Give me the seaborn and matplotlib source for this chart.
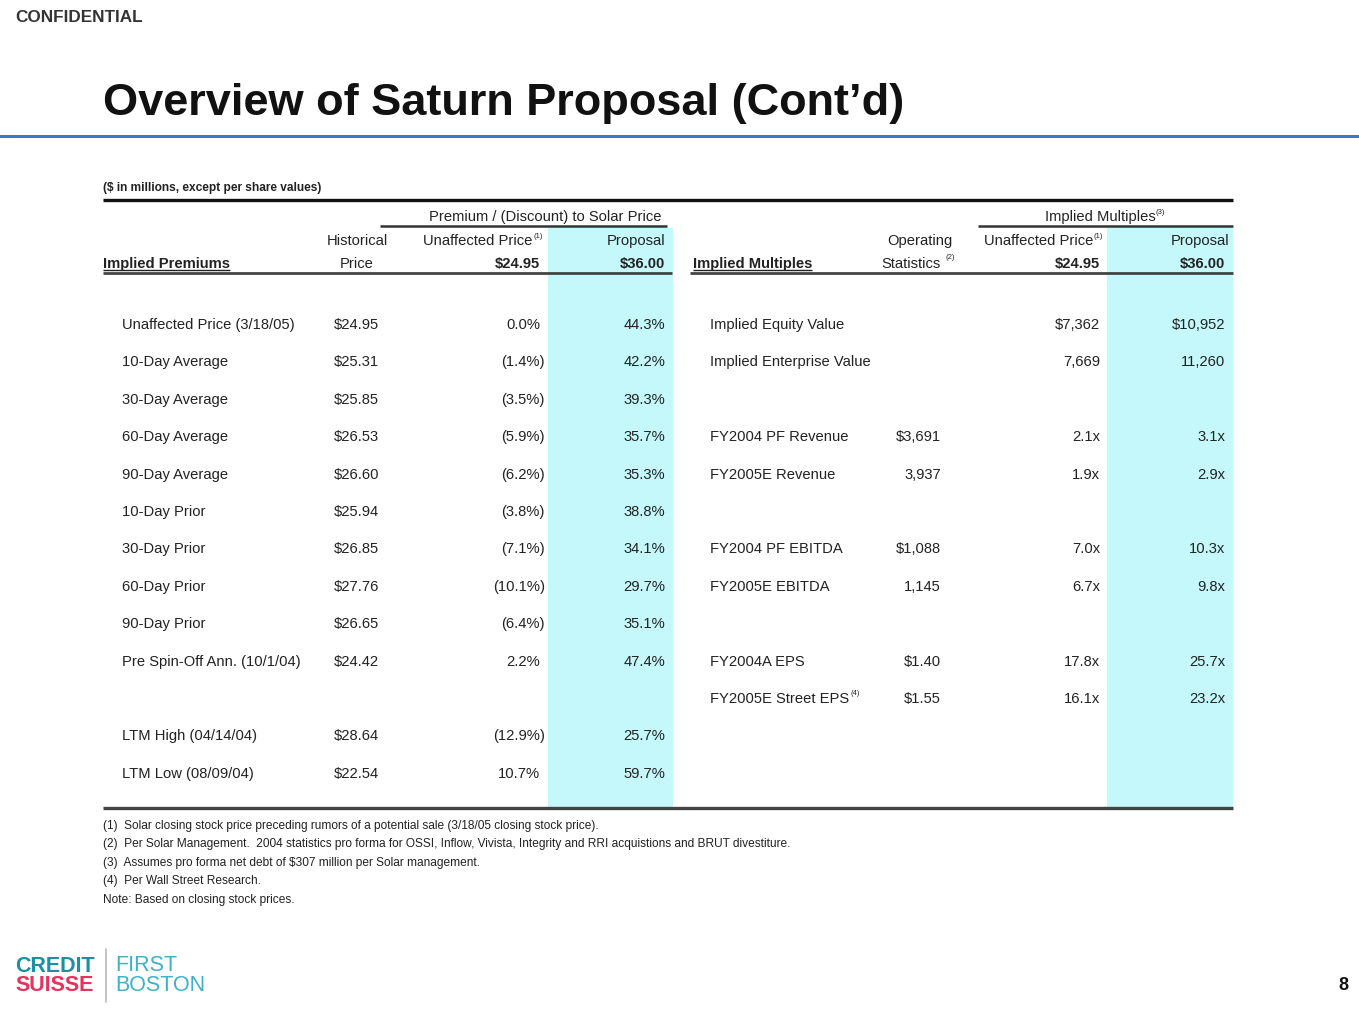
import matplotlib
matplotlib.use("Agg")
import matplotlib.pyplot as plt
import seaborn as sns

sns.set_theme(style="white")
plt.rcParams['font.family'] = ['Liberation Sans', 'DejaVu Sans']

# ---- data ----
premium_labels = ["Unaffected Price (3/18/05)", "10-Day Average", "30-Day Average", "60-Day Average",
                  "90-Day Average", "10-Day Prior", "30-Day Prior", "60-Day Prior", "90-Day Prior",
                  "Pre Spin-Off Ann. (10/1/04)", None, "LTM High (04/14/04)", "LTM Low (08/09/04)"]
historical_price = [24.95, 25.31, 25.85, 26.53, 26.60, 25.94, 26.85, 27.76, 26.65, 24.42, None, 28.64, 22.54]
premium_unaffected = [0.0, -1.4, -3.5, -5.9, -6.2, -3.8, -7.1, -10.1, -6.4, 2.2, None, -12.9, 10.7]
premium_proposal = [44.3, 42.2, 39.3, 35.7, 35.3, 38.8, 34.1, 29.7, 35.1, 47.4, None, 25.7, 59.7]

multiple_labels = ["Implied Equity Value", "Implied Enterprise Value", None, "FY2004 PF Revenue",
                   "FY2005E Revenue", None, "FY2004 PF EBITDA", "FY2005E EBITDA", None,
                   "FY2004A EPS", "FY2005E Street EPS"]
operating_stats = [None, None, None, "$3,691", "3,937", None, "$1,088", "1,145", None, "$1.40", "$1.55"]
multiple_unaffected = ["$7,362", "7,669", None, "2.1x", "1.9x", None, "7.0x", "6.7x", None, "17.8x", "16.1x"]
multiple_proposal = ["$10,952", "11,260", None, "3.1x", "2.9x", None, "10.3x", "9.8x", None, "25.7x", "23.2x"]

unaffected_price = 24.95
proposal_price = 36.00

footnotes = [
    "(1)  Solar closing stock price preceding rumors of a potential sale (3/18/05 closing stock price).",
    "(2)  Per Solar Management.  2004 statistics pro forma for OSSI, Inflow, Vivista, Integrity and RRI acquistions and BRUT divestiture.",
    "(3)  Assumes pro forma net debt of $307 million per Solar management.",
    "(4)  Per Wall Street Research.",
    "Note: Based on closing stock prices.",
]

# ---- figure ----
fig = plt.figure(figsize=(13.59, 10.2), dpi=100)
ax = fig.add_axes([0, 0, 1, 1])
ax.set_xlim(0, 1359)
ax.set_ylim(1020, 0)
ax.axis('off')

txt = '#222222'
cyan = '#c4f8fb'
fs = 10.6

def pct(v):
    return f"({abs(v):.1f}%)" if v < 0 else f"{v:.1f}%"

def put_right(x, y, s, **kw):
    # parentheses hang past the alignment edge
    if s.endswith(')'):
        x += 5
    ax.text(x, y, s, ha='right', va='center', fontsize=fs, color=txt, **kw)

def right_edge(t):
    fig.canvas.draw()
    bb = t.get_window_extent(fig.canvas.get_renderer())
    inv = ax.transData.inverted()
    return inv.transform([[bb.x0, bb.y0]])[0][0], inv.transform([[bb.x1, bb.y0]])[0][0]

def underline(t, y):
    x0, x1 = right_edge(t)
    ax.plot([x0, x1], [y, y], color=txt, lw=1.0, solid_capstyle='butt')

# header strip
ax.text(15, 18, "CONFIDENTIAL", fontsize=12.3, fontweight='bold', color='#333333', va='center')
ax.text(103, 104, "Overview of Saturn Proposal (Cont\u2019d)", fontsize=32.5, fontweight='bold',
        color='#111111', va='center')
ax.plot([0, 1359], [137, 137], color='#2e7dd1', lw=2.2)
ax.text(103, 188, "($ in millions, except per share values)", fontsize=8.6, fontweight='bold',
        color=txt, va='center')

# shaded proposal columns
ax.add_patch(plt.Rectangle((548, 229), 125, 579, color=cyan, lw=0, zorder=0))
ax.add_patch(plt.Rectangle((1107, 229), 126, 579, color=cyan, lw=0, zorder=0))

# rules
ax.plot([103, 1233], [201, 201], color='#111111', lw=2.4, solid_capstyle='butt')
ax.plot([380, 667], [227, 227], color='#333333', lw=1.8, solid_capstyle='butt')
ax.plot([978, 1233], [227, 227], color='#333333', lw=1.8, solid_capstyle='butt')
ax.plot([103, 672], [274, 274], color='#444444', lw=2.0, solid_capstyle='butt')
ax.plot([690, 1233], [274, 274], color='#444444', lw=2.0, solid_capstyle='butt')
ax.plot([103, 1233], [809, 809], color='#444444', lw=2.4, solid_capstyle='butt')

# left headers
ax.text(545, 217, "Premium / (Discount) to Solar Price", ha='center', va='center', fontsize=fs, color=txt)
ax.text(357, 241, "Historical", ha='center', va='center', fontsize=fs, color=txt)
ax.text(357, 264, "Price", ha='center', va='center', fontsize=fs, color=txt)
ax.text(532, 241, "Unaffected Price", ha='right', va='center', fontsize=fs, color=txt)
ax.text(533, 236, "(1)", ha='left', va='center', fontsize=5.5, color=txt)
ax.text(665, 241, "Proposal", ha='right', va='center', fontsize=fs, color=txt)
ax.text(540, 264, f"${unaffected_price:.2f}", ha='right', va='center', fontsize=fs, fontweight='bold', color=txt)
ax.text(665, 264, f"${proposal_price:.2f}", ha='right', va='center', fontsize=fs, fontweight='bold', color=txt)
t = ax.text(103, 264, "Implied Premiums", ha='left', va='center', fontsize=fs, fontweight='bold', color=txt)
underline(t, 271)

# right headers
ax.text(1100, 217, "Implied Multiples", ha='center', va='center', fontsize=fs, color=txt)
ax.text(1155, 212, "(3)", ha='left', va='center', fontsize=5.5, color=txt)
ax.text(953, 241, "Operating", ha='right', va='center', fontsize=fs, color=txt)
ax.text(941, 264, "Statistics", ha='right', va='center', fontsize=fs, color=txt)
ax.text(946, 258, "(2)", ha='left', va='center', fontsize=5.5, color=txt)
ax.text(1093, 241, "Unaffected Price", ha='right', va='center', fontsize=fs, color=txt)
ax.text(1094, 236, "(1)", ha='left', va='center', fontsize=5.5, color=txt)
ax.text(1229, 241, "Proposal", ha='right', va='center', fontsize=fs, color=txt)
ax.text(1100, 264, f"${unaffected_price:.2f}", ha='right', va='center', fontsize=fs, fontweight='bold', color=txt)
ax.text(1225, 264, f"${proposal_price:.2f}", ha='right', va='center', fontsize=fs, fontweight='bold', color=txt)
t = ax.text(693, 264, "Implied Multiples", ha='left', va='center', fontsize=fs, fontweight='bold', color=txt)
underline(t, 271)

# body rows
y0, dy = 325, 37.4
for i, lab in enumerate(premium_labels):
    if lab is None:
        continue
    y = y0 + i * dy
    ax.text(122, y, lab, ha='left', va='center', fontsize=fs, color=txt)
    ax.text(334, y, f"${historical_price[i]:.2f}", ha='left', va='center', fontsize=fs, color=txt)
    put_right(540, y, pct(premium_unaffected[i]))
    put_right(665, y, pct(premium_proposal[i]))

for i, lab in enumerate(multiple_labels):
    if lab is None:
        continue
    y = y0 + i * dy
    t = ax.text(710, y, lab, ha='left', va='center', fontsize=fs, color=txt)
    if lab.endswith("Street EPS"):
        xe = right_edge(t)[1]
        ax.text(xe + 1, y - 5, "(4)", ha='left', va='center', fontsize=5.5, color=txt)
    if operating_stats[i] is not None:
        put_right(941, y, operating_stats[i])
    put_right(1100, y, multiple_unaffected[i])
    put_right(1225, y, multiple_proposal[i])

# footnotes
for k, note in enumerate(footnotes):
    ax.text(103, 826 + k * 18.5, note, ha='left', va='center', fontsize=8.6, color=txt)

# logo + page number
ax.text(15, 967, "CREDIT", fontsize=15.5, fontweight='bold', color='#1c8fa3', va='center')
ax.text(15, 986, "SUISSE", fontsize=15.5, fontweight='bold', color='#e4335c', va='center')
ax.plot([106, 106], [950, 1003], color='#bbbbbb', lw=1.2)
ax.text(115, 966, "FIRST", fontsize=15.5, color='#3fb0c9', va='center')
ax.text(115, 986, "BOSTON", fontsize=15.5, color='#3fb0c9', va='center')
ax.text(1348, 986, "8", fontsize=13, fontweight='bold', color='#111111', ha='right', va='center')

fig.savefig("out.png", dpi=100, facecolor='white')
